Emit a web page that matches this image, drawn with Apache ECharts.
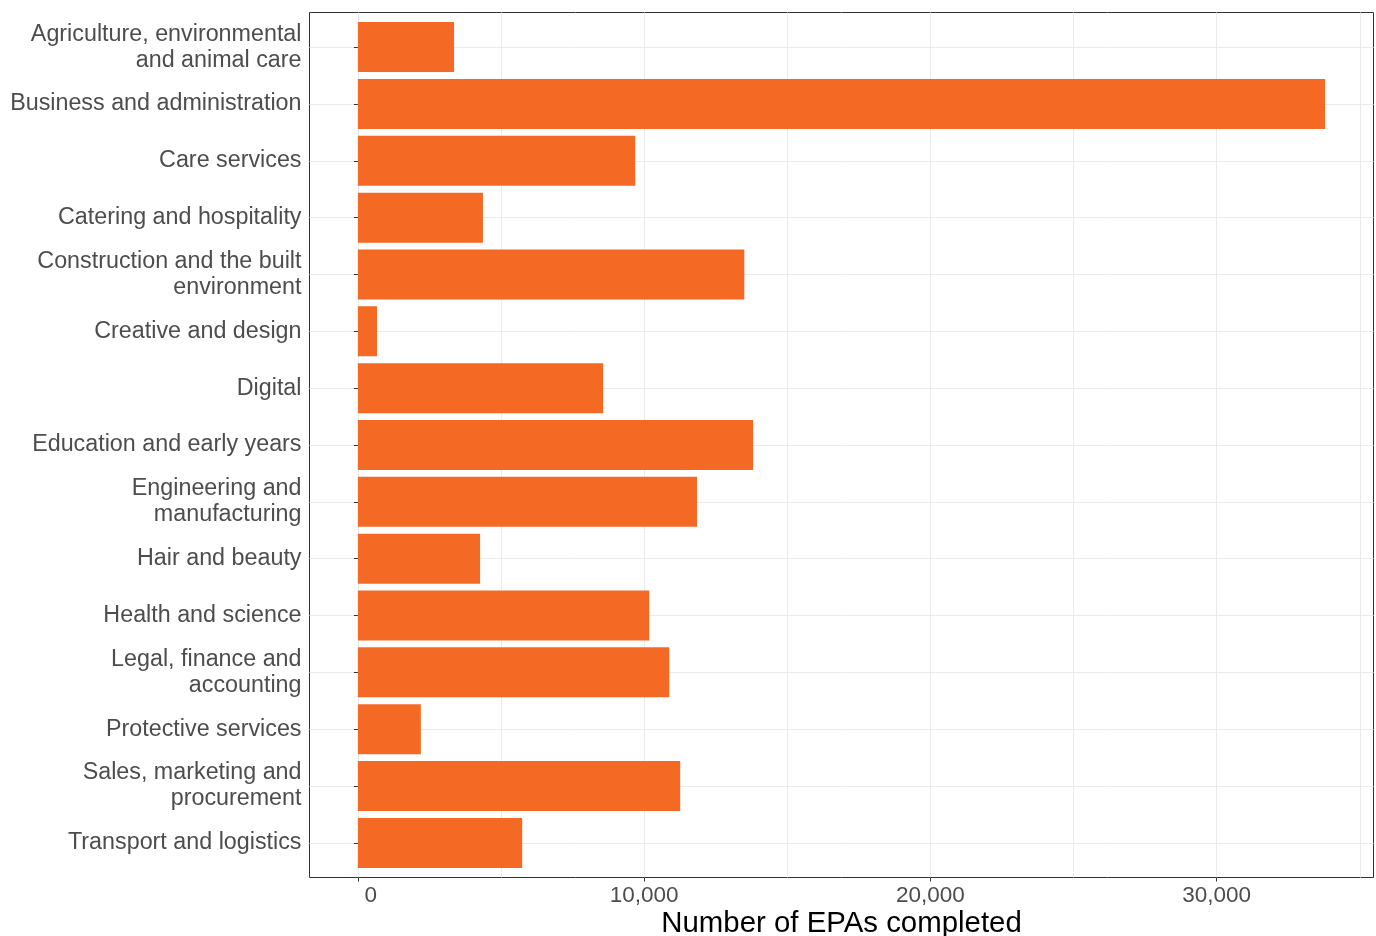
<!DOCTYPE html>
<html><head><meta charset="utf-8">
<script src="https://cdn.jsdelivr.net/npm/echarts@6/dist/echarts.min.js"></script>
<style>html,body{margin:0;padding:0;background:#fff}#c{width:1376px;height:936px}</style>
</head><body><div id="c"></div>
<script>
var categories = [
  "Agriculture, environmental\nand animal care",
  "Business and administration",
  "Care services",
  "Catering and hospitality",
  "Construction and the built\nenvironment",
  "Creative and design",
  "Digital",
  "Education and early years",
  "Engineering and\nmanufacturing",
  "Hair and beauty",
  "Health and science",
  "Legal, finance and\naccounting",
  "Protective services",
  "Sales, marketing and\nprocurement",
  "Transport and logistics"
];
var epas = [3360, 33790, 9690, 4370, 13500, 670, 8570, 13810, 11850, 4270, 10180, 10880, 2200, 11260, 5740];
var majorTicks = [0, 10000, 20000, 30000];
var gridTicks = [0, 5000, 10000, 15000, 20000, 25000, 30000, 35000];

var dmax = Math.max.apply(null, epas);
var xmin = -0.05 * dmax, xmax = 1.05 * dmax;
var font = '"Liberation Sans", Arial, sans-serif';
var chart = echarts.init(document.getElementById('c'));
chart.setOption({
  animation: false,
  grid: [
    {left: 309.5, top: 12.5, width: 1064, height: 865, show: true, borderColor: '#333333', borderWidth: 1, backgroundColor: 'transparent', containLabel: false, outerBoundsMode: 'none'},
    {left: 309.5, top: 47.1, width: 1064, height: 795.8, containLabel: false, outerBoundsMode: 'none'}
  ],
  xAxis: [
    {gridIndex: 0, type: 'value', min: xmin, max: xmax, position: 'bottom',
     axisLine: {show: false},
     axisTick: {show: false, customValues: gridTicks},
     axisLabel: {show: false, customValues: gridTicks},
     splitLine: {show: true, lineStyle: {color: '#ebebeb', width: 1}}},
    {gridIndex: 0, type: 'value', min: xmin, max: xmax, position: 'bottom',
     name: 'Number of EPAs completed', nameLocation: 'middle', nameGap: 32, nameMoveOverlap: false,
     nameTextStyle: {fontSize: 29.4, color: '#000', fontFamily: font},
     axisLine: {show: false},
     axisTick: {show: true, length: 4, customValues: majorTicks, lineStyle: {color: '#333333', width: 1}},
     axisLabel: {show: true, customValues: majorTicks, fontSize: 22.5, color: '#4d4d4d', fontFamily: font, margin: 7,
       formatter: function (v) { return v === 0 ? '{z|0}' : echarts.format.addCommas(v); },
       rich: {z: {fontSize: 22.5, color: '#4d4d4d', fontFamily: font, padding: [0, 0, 0, 26]}}},
     splitLine: {show: false}},
    {gridIndex: 1, type: 'value', min: xmin, max: xmax, show: false}
  ],
  yAxis: [
    {gridIndex: 0, type: 'value', min: 0, max: 1, show: false},
    {gridIndex: 1, type: 'category', data: categories, inverse: true, boundaryGap: false,
     axisLine: {show: false},
     axisTick: {show: true, length: 4, lineStyle: {color: '#333333', width: 1}},
     axisLabel: {fontSize: 23.3, color: '#4d4d4d', fontFamily: font, lineHeight: 26, margin: 8, interval: 0, padding: [5, 0, 0, 0]},
     splitLine: {show: true, lineStyle: {color: '#ebebeb', width: 1}}}
  ],
  series: [{
    type: 'bar', xAxisIndex: 2, yAxisIndex: 1, data: epas, barWidth: 50,
    itemStyle: {color: '#F46A25'}
  }]
});
</script></body></html>
